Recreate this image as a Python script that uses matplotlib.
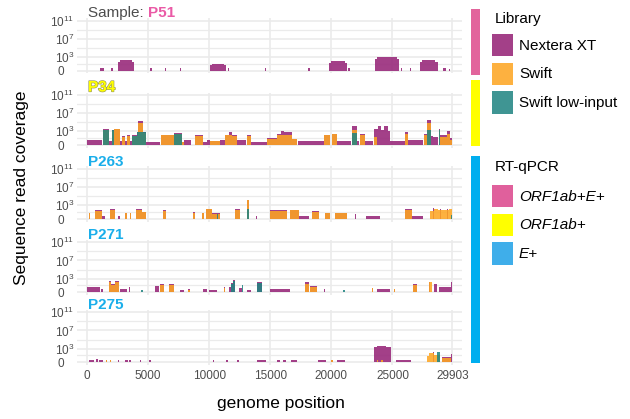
import numpy as np
import matplotlib
matplotlib.use("Agg")
import matplotlib.pyplot as plt
from matplotlib.patches import Rectangle
import matplotlib.patheffects as pe

plt.rcParams['font.family'] = ['Liberation Sans', 'DejaVu Sans']
plt.rcParams['mathtext.default'] = 'regular'

# coverage: (start, end, reads)
P51_nextera = [
    (1050, 1400, 3), (1950, 2100, 4),
    (2540, 2700, 100), (2700, 3650, 280), (3650, 3830, 100),
    (5180, 5300, 3), (6400, 6500, 3), (7620, 7720, 3),
    (10040, 10200, 15), (10200, 11200, 35), (11200, 11380, 15),
    (11560, 11660, 3), (14540, 14640, 3), (18060, 18250, 4),
    (19830, 20000, 60), (20000, 21100, 150), (21100, 21280, 60), (21380, 21500, 3),
    (23590, 23750, 400), (23750, 25350, 1000), (25350, 25500, 400),
    (25700, 25800, 3), (26400, 26500, 3),
    (27220, 27400, 100), (27400, 28500, 250), (28500, 28700, 100),
    (29100, 29350, 4), (29600, 29700, 2),
]
P51_swift = []
P51_low = []

P34_nextera = [
    (0, 1230, 10), (1280, 1770, 4000), (1770, 2050, 5), (2050, 2240, 2500),
    (2240, 2700, 4000), (2700, 2900, 5), (2900, 3100, 100), (3100, 3300, 5),
    (3300, 3500, 150), (3500, 3680, 5), (3680, 4090, 150), (4090, 4180, 700),
    (4180, 4600, 200000), (4600, 4800, 800), (4800, 6000, 3), (6050, 7100, 200),
    (7100, 7780, 400), (7780, 7900, 3), (7900, 8500, 10), (8820, 9500, 200),
    (9500, 9800, 3), (9800, 10100, 12), (10100, 10900, 5), (10900, 11300, 15),
    (11320, 11650, 200), (11650, 11900, 600), (11900, 12270, 150), (12270, 13050, 12),
    (13090, 13400, 125), (13400, 14700, 3),
    (14730, 15550, 40), (15550, 15900, 300), (15900, 16150, 1000), (16150, 16450, 600),
    (16450, 16770, 800), (16770, 17200, 20), (17300, 19370, 5), (19420, 19910, 130),
    (20040, 20450, 300), (20450, 21600, 5), (21680, 22090, 12000), (22090, 22300, 5),
    (22360, 22770, 300), (22770, 23400, 5), (23480, 23800, 3000), (23800, 24100, 16000),
    (24100, 24300, 2000), (24300, 24600, 12000), (24600, 24800, 1000), (24800, 26040, 5),
    (26040, 26240, 600), (26240, 27500, 10), (27550, 27850, 300), (27850, 28120, 300000),
    (28120, 28300, 100), (28300, 28700, 60), (28770, 28900, 3500), (28900, 29500, 200),
    (29500, 29700, 1000), (29700, 29903, 30),
]
P34_swift = [
    (1280, 1770, 2000), (2050, 2240, 1500), (2240, 2700, 3000), (2900, 3100, 60),
    (3300, 3500, 100), (3680, 4180, 80), (4180, 4600, 80000), (4600, 4800, 400),
    (6050, 7100, 125), (7100, 7780, 250), (7780, 7900, 3), (8820, 9500, 100), (10100, 10900, 5),
    (11320, 11650, 125), (11650, 11900, 160), (11900, 12270, 100), (13090, 13400, 100),
    (14730, 15550, 20), (15550, 16770, 200), (16770, 17200, 20), (19420, 19910, 125),
    (20040, 20450, 250), (21680, 22090, 2500), (22360, 22770, 200), (23500, 23700, 50),
    (26040, 26240, 300), (27550, 27850, 200), (27850, 28120, 80000), (28770, 28900, 2000),
    (28900, 29500, 50), (29500, 29700, 300), (29700, 29903, 10),
]
P34_low = [
    (1280, 1770, 2500), (2050, 2240, 2000), (3680, 4090, 100), (4090, 4800, 600),
    (7100, 7780, 300), (21680, 22090, 500), (27850, 28120, 2000), (28770, 28900, 2500),
]

P263_nextera = [
    (140, 270, 25), (680, 1230, 80), (1230, 1500, 3), (1910, 2320, 150), (2500, 2700, 3),
    (3140, 3270, 25), (3500, 3620, 25), (4030, 4500, 150), (4500, 4850, 35),
    (6220, 6490, 100), (8680, 8870, 40), (9420, 9600, 25), (9760, 10230, 150),
    (10230, 10910, 18), (12140, 12560, 150), (13090, 13230, 12000), (13800, 13900, 3),
    (15000, 16360, 80), (16630, 17320, 120), (17320, 18200, 3), (18400, 18950, 50),
    (19500, 19900, 25), (20310, 21270, 25), (21900, 22000, 10), (22850, 23950, 3),
    (26040, 26590, 200), (26590, 27500, 4), (28300, 28400, 300), (28900, 28980, 200),
    (29500, 29580, 200),
]
P263_swift = [
    (140, 270, 20), (680, 1230, 60), (1910, 2320, 80), (3140, 3270, 20), (3500, 3620, 20),
    (4030, 4500, 80), (4500, 4850, 30), (6220, 6490, 60), (8680, 8870, 20), (9420, 9600, 20),
    (9760, 10230, 130), (10230, 10910, 15), (12140, 12560, 100), (13090, 13230, 12000),
    (15000, 16360, 50), (16630, 17320, 80), (18400, 18950, 30), (19500, 19900, 20),
    (20310, 21270, 20), (26040, 26590, 80), (28090, 28400, 60), (28400, 28700, 150),
    (28700, 29000, 100), (29000, 29300, 120), (29300, 29600, 80), (29600, 29860, 150),
]
P263_low = [(10600, 10700, 10), (13090, 13230, 200), (29800, 29903, 5)]

P271_nextera = [
    (0, 1050, 12), (1150, 1300, 5), (1770, 1950, 250), (1950, 2300, 60), (2300, 2590, 250),
    (2700, 3300, 5), (3400, 3550, 12), (5590, 5860, 20), (5990, 6270, 60), (6680, 7090, 70),
    (7650, 7900, 3), (8300, 8400, 4), (9500, 9800, 4), (10000, 10600, 3), (11180, 11300, 12),
    (11620, 11800, 15), (11800, 11940, 100), (11940, 12130, 400), (12400, 12660, 10),
    (13100, 13400, 3), (13900, 14320, 150), (15000, 16630, 5), (17860, 18130, 150),
    (18270, 18860, 20), (19360, 19500, 4), (23300, 23400, 10), (23730, 24820, 4),
    (25090, 25200, 5), (26720, 27000, 80), (28000, 28080, 200), (28360, 28640, 60),
    (28770, 29800, 15), (29800, 29880, 150),
]
P271_swift = [
    (1770, 1950, 200), (1950, 2300, 40), (2300, 2590, 150), (5990, 6270, 40), (6680, 7090, 50),
    (8300, 8400, 3), (11180, 11300, 10), (17860, 18130, 80), (18270, 18860, 15),
    (23300, 23400, 8), (25090, 25200, 4), (26720, 27000, 40), (27960, 28230, 150),
]
P271_low = [
    (4400, 4600, 3), (11800, 11940, 60), (11940, 12130, 300), (12670, 12800, 40),
    (13900, 14320, 100), (20990, 21100, 3),
]

P275_nextera = [
    (190, 600, 2), (700, 900, 4), (1000, 1300, 2), (1550, 1650, 3), (1850, 1950, 3),
    (2500, 2650, 3), (3150, 3350, 3), (3450, 3600, 2), (4300, 4400, 2), (5100, 5200, 2),
    (10300, 10400, 2), (11400, 11500, 2), (12250, 12450, 3), (13900, 14640, 2),
    (15540, 15800, 2), (16000, 16300, 2), (16700, 17170, 2), (18900, 19580, 2),
    (20010, 20100, 3), (20440, 21120, 2), (23480, 23700, 2000), (23700, 23900, 3000),
    (23900, 24000, 4500), (24000, 24200, 3000), (24200, 24300, 4500), (24300, 24500, 3000),
    (24500, 24840, 2000), (25320, 26550, 2), (28300, 28400, 150), (29090, 29770, 12),
    (29770, 29860, 70),
]
P275_swift = [
    (1550, 1650, 2), (1850, 1950, 2), (20010, 20100, 2), (23700, 23800, 3), (24100, 24200, 3),
    (27790, 28000, 30), (28000, 28400, 100), (28400, 28880, 50), (29090, 29770, 10),
]
P275_low = [(28610, 28880, 200)]

samples = ['P51', 'P34', 'P263', 'P271', 'P275']
sample_rtqpcr = ['ORF1ab+E+', 'ORF1ab+', 'E+', 'E+', 'E+']
coverage = {
    'P51': [P51_nextera, P51_swift, P51_low],
    'P34': [P34_nextera, P34_swift, P34_low],
    'P263': [P263_nextera, P263_swift, P263_low],
    'P271': [P271_nextera, P271_swift, P271_low],
    'P275': [P275_nextera, P275_swift, P275_low],
}
libraries = ['Nextera XT', 'Swift', 'Swift low-input']
rtqpcr_groups = ['ORF1ab+E+', 'ORF1ab+', 'E+']

x_ticks = [0, 5000, 10000, 15000, 20000, 25000, 29903]
y_ticks = [0, 1e3, 1e7, 1e11]
y_ticklabels = ['0   ', '$10^3$', '$10^7$', '$10^{11}$']

# styling
lib_colors = ['#9B2F7E', '#FDA521', '#1F8481']
lib_alpha = [0.92, 0.86, 0.86]
group_colors = {'ORF1ab+E+': '#E0609C', 'ORF1ab+': '#FFFF00', 'E+': '#3FAEEA'}
strip_colors = {'ORF1ab+E+': '#E2649C', 'ORF1ab+': '#FFFF00', 'E+': '#00AEEF'}
label_colors = {'ORF1ab+E+': '#EA5AA6', 'ORF1ab+': '#FFFF00', 'E+': '#1AAEEA'}
grid_col = '#EBEBEB'
W, H = 630, 419


def fwd(y):
    return np.log10(np.clip(np.asarray(y, dtype=float) + 1, 1e-6, None))


def inv(t):
    return 10 ** np.asarray(t, dtype=float) - 1


def steps(segs):
    xs, ys = [], []
    for s, e, h in sorted(segs):
        xs += [s, s, e, e]
        ys += [0, h, h, 0]
    return xs, ys


fig = plt.figure(figsize=(6.3, 4.19), dpi=100)

# panel tops in pixels, each 55 px tall
panel_tops = [18.2, 92.5, 166.5, 239.8, 309.8]
panel_h = 55
left, right = 77, 462

for i, sample in enumerate(samples):
    top = panel_tops[i]
    ax = fig.add_axes([left / W, 1 - (top + panel_h) / H, (right - left) / W, panel_h / H])
    ax.set_yscale('function', functions=(fwd, inv))
    ax.set_xlim(-818, 30690)
    ax.set_ylim(inv(-0.55), inv(11.55))
    for lib, segs in enumerate(coverage[sample]):
        if not segs:
            continue
        xs, ys = steps(segs)
        ax.fill_between(xs, 0, ys, color=lib_colors[lib], alpha=lib_alpha[lib], lw=0, zorder=2 + lib)
    ax.set_xticks(x_ticks)
    ax.set_yticks(y_ticks, y_ticklabels)
    ax.set_yticks([inv(1.5), inv(5), inv(9)], minor=True)
    ax.yaxis.set_minor_formatter(plt.NullFormatter())
    ax.grid(which='major', color=grid_col, lw=1.2, zorder=0)
    ax.grid(which='minor', axis='y', color=grid_col, lw=0.9, zorder=0)
    ax.set_axisbelow(True)
    for sp in ax.spines.values():
        sp.set_visible(False)
    ax.tick_params(which='both', length=0, labelsize=8.5, labelcolor='#4D4D4D', pad=2)
    if i < len(samples) - 1:
        ax.tick_params(axis='x', labelbottom=False)
    else:
        ax.tick_params(axis='x', labelsize=8.5, pad=4)

    group = sample_rtqpcr[i]
    ty = 1 + 5 / panel_h
    tx = (88 - left) / (right - left)
    if i == 0:
        t1 = ax.text(tx, ty, 'Sample: ', transform=ax.transAxes, fontsize=11,
                     color='#4D4D4D', va='center', ha='left')
        ax.annotate(sample, xy=(1, 0), xycoords=t1, va='bottom', ha='left',
                    fontsize=11, fontweight='bold', color=label_colors[group])
    else:
        t = ax.text(tx, ty, sample, transform=ax.transAxes, fontsize=11,
                    fontweight='bold', color=label_colors[group], va='center', ha='left')
        if group == 'ORF1ab+':
            t.set_path_effects([pe.withStroke(linewidth=0.9, foreground='#9A9A60')])

fig.text(281 / W, 1 - 403 / H, 'genome position', fontsize=12.5, ha='center', va='center')
fig.text(22 / W, 1 - 188 / H, 'Sequence read coverage', fontsize=12.5,
         rotation=90, ha='center', va='center')

# overlay for RT-qPCR strips and legend (pixel coordinates)
ov = fig.add_axes([0, 0, 1, 1])
ov.set_xlim(0, W)
ov.set_ylim(H, 0)
ov.axis('off')

strip_spans = {'ORF1ab+E+': (9, 75), 'ORF1ab+': (80, 146), 'E+': (156, 363)}
for g, (y0, y1) in strip_spans.items():
    ov.add_patch(Rectangle((471, y0), 9, y1 - y0, color=strip_colors[g], lw=0))

ov.text(495, 19, 'Library', fontsize=11, va='center', ha='left')
lib_key_y = [34, 63, 91.5]
for lib, name in enumerate(libraries):
    ov.add_patch(Rectangle((492, lib_key_y[lib]), 21, 22.5, facecolor=lib_colors[lib],
                           alpha=lib_alpha[lib], lw=0))
    ov.text(519, lib_key_y[lib] + 11.5, name, fontsize=11, va='center', ha='left')

ov.text(495, 167, 'RT-qPCR', fontsize=11, va='center', ha='left')
grp_key_y = [185, 213.5, 242]
for k, g in enumerate(rtqpcr_groups):
    ov.add_patch(Rectangle((492, grp_key_y[k]), 21, 22.5, facecolor=group_colors[g], lw=0))
    ov.text(519, grp_key_y[k] + 11.5, g, fontsize=11, style='italic', va='center', ha='left')

fig.savefig('out.png', dpi=100)
